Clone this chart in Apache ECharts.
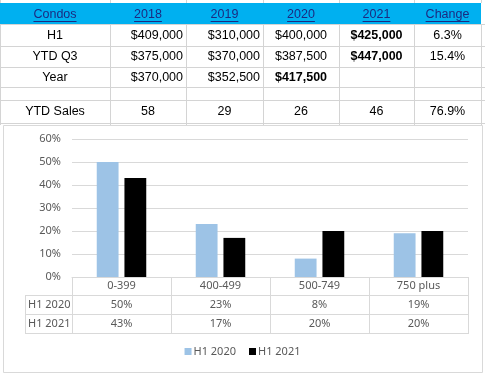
<!DOCTYPE html>
<html><head><meta charset="utf-8">
<script src="https://cdn.jsdelivr.net/npm/echarts@6/dist/echarts.min.js"></script>
<style>html,body{margin:0;padding:0;background:#fff}#c{width:485px;height:374px}</style>
</head><body><div id="c"></div>
<script>
// ---- data ----
const headers = ['Condos', '2018', '2019', '2020', '2021', 'Change'];
const rowLabels = ['H1', 'YTD Q3', 'Year', '', 'YTD Sales'];
const col2018 = ['$409,000', '$375,000', '$370,000', '', '58'];
const col2019 = ['$310,000', '$370,000', '$352,500', '', '29'];
const col2020 = ['$400,000', '$387,500', '$417,500', '', '26'];
const col2021 = ['$425,000', '$447,000', '', '', '46'];
const colChange = ['6.3%', '15.4%', '', '', '76.9%'];
const boldCells = ['0,4', '1,4', '2,3']; // row,col
const categories = ['0-399', '400-499', '500-749', '750 plus'];
const seriesNames = ['H1 2020', 'H1 2021'];
const h12020 = [50, 23, 8, 19];
const h12021 = [43, 17, 20, 20];

// ---- layout ----
const colX = [0, 110, 186, 263, 339, 414, 481];
const rowY = [3, 24, 46, 67, 87, 100, 123];
const colAlign = ['center', 'right', 'right', 'center', 'center', 'center'];
const GL = 72, GR = 468, GT = 139, GB = 277;
const TBL_LEFT = 25, ROW_H = 19;
const gridColor = '#D4D4D4', chartLine = '#D9D9D9', txt = '#595959';
const cellFont = '"Liberation Sans", Arial, sans-serif';
const chartFont = '"Noto Sans", sans-serif';

const chart = echarts.init(document.getElementById('c'), null, { renderer: 'canvas' });
chart.setOption({
  animation: false,
  textStyle: { fontFamily: chartFont },
  grid: { left: GL, right: 485 - GR, top: GT, bottom: 374 - GB, containLabel: false },
  legend: {
    data: seriesNames, top: 341, left: 'center', icon: 'rect', itemWidth: 7, itemHeight: 7, itemGap: 13,
    textStyle: { fontSize: 11, color: txt, fontFamily: chartFont, padding: [0, 0, 0, -3] }
  },
  xAxis: {
    type: 'category', data: categories,
    axisLine: { lineStyle: { color: chartLine } },
    axisTick: { show: true, length: (ROW_H * 3), inside: false, lineStyle: { color: chartLine } },
    axisLabel: { color: txt, fontSize: 11, margin: 9, verticalAlign: 'middle', fontFamily: chartFont }
  },
  yAxis: {
    type: 'value', min: 0, max: 60, interval: 10,
    axisLine: { show: false }, axisTick: { show: false },
    splitLine: { lineStyle: { color: chartLine } },
    axisLabel: { formatter: '{value}%', color: txt, fontSize: 11, margin: 11, fontFamily: chartFont }
  },
  series: [
    { name: seriesNames[0], type: 'bar', data: h12020, itemStyle: { color: '#9DC3E6' }, barGap: '27%', barCategoryGap: '50%' },
    { name: seriesNames[1], type: 'bar', data: h12021, itemStyle: { color: '#000000' } }
  ]
});

// ---- graphics: spreadsheet table + chart data table ----
const g = [];
const line = (x1, y1, x2, y2, c) => g.push({ type: 'line', silent: true, shape: { x1, y1, x2, y2 }, style: { stroke: c, lineWidth: 1 } });
const text = (t, x, y, align, opt) => g.push({ type: 'text', silent: true, z: 10, style: Object.assign({ text: t, x, y, align, verticalAlign: 'middle' }, opt) });

// header background
g.push({ type: 'rect', silent: true, shape: { x: 0, y: rowY[0], width: colX[6], height: rowY[1] - rowY[0] }, style: { fill: '#00B0F0' } });
// gridlines
for (let i = 0; i < colX.length; i++) {
  const x = colX[i] + 0.5;
  line(x, 0, x, rowY[0], gridColor);
  line(x, rowY[1], x, 125, gridColor);
}
for (let j = 1; j < rowY.length; j++) line(0, rowY[j] + 0.5, 485, rowY[j] + 0.5, gridColor);

const mctx = document.createElement('canvas').getContext('2d');
const cols = [rowLabels, col2018, col2019, col2020, col2021, colChange];
// header texts with underline
headers.forEach((h, c) => {
  const cx = (colX[c] + colX[c + 1]) / 2;
  const f = '12.5px ' + cellFont;
  mctx.font = f;
  const w = mctx.measureText(h).width;
  text(h, cx, 14.5, 'center', { font: f, fill: '#1B2A80' });
  line(cx - w / 2, 21.5, cx + w / 2, 21.5, '#1B2A80');
});
const dataRows = [0, 1, 2, 3, 4];
dataRows.forEach(r => {
  const yc = (rowY[r + 1] + rowY[r + 2]) / 2 + 0.5;
  cols.forEach((col, c) => {
    const v = col[r];
    if (!v) return;
    const bold = boldCells.indexOf(r + ',' + c) >= 0;
    const al = (r === 4 && c > 0) ? 'center' : colAlign[c];
    const x = al === 'center' ? (colX[c] + colX[c + 1]) / 2 : colX[c + 1] - 3;
    text(v, x, yc, al, { font: (bold ? 'bold ' : '') + '12.5px ' + cellFont, fill: '#000' });
  });
});

// chart border
g.push({ type: 'rect', silent: true, z: -1, shape: { x: 3.5, y: 125.5, width: 479, height: 247 }, style: { fill: '#fff', stroke: chartLine, lineWidth: 1 } });

// data table below axis
const t0 = GB + ROW_H - 1;
for (let k = 0; k < 3; k++) line(TBL_LEFT, t0 + k * ROW_H + 0.5, GR, t0 + k * ROW_H + 0.5, chartLine);
line(TBL_LEFT + 0.5, t0, TBL_LEFT + 0.5, t0 + 2 * ROW_H, chartLine);
const seriesVals = [h12020, h12021];
seriesVals.forEach((arr, s) => {
  const yc = t0 + s * ROW_H + ROW_H / 2 + 0.5;
  text(seriesNames[s], TBL_LEFT + 3, yc, 'left', { fontSize: 11, fontFamily: chartFont, fill: txt });
  arr.forEach((v, i) => {
    const px = chart.convertToPixel({ xAxisIndex: 0 }, categories[i]);
    text(v + '%', px, yc, 'center', { fontSize: 11, fontFamily: chartFont, fill: txt });
  });
});

chart.setOption({ graphic: { elements: g } });
</script>
</body></html>
